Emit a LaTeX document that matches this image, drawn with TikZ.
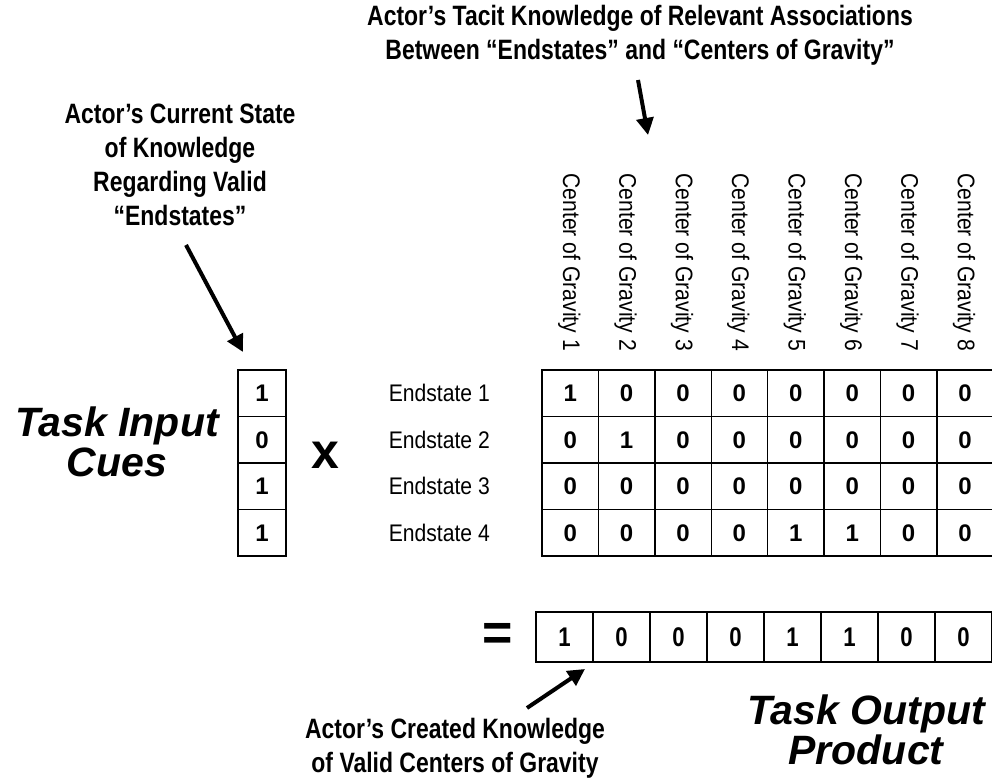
\documentclass[tikz,border=0pt]{standalone}
\usepackage{fontspec}
\setmainfont{Liberation Sans}
\newfontfamily\nb[FakeStretch=0.82]{Liberation Sans}
\newfontfamily\nr[FakeStretch=0.88]{Liberation Sans}
\usetikzlibrary{arrows.meta}
\begin{document}
\begin{tikzpicture}[x=1pt,y=-1pt,
  mcell/.style={draw, line width=1.4pt, minimum width=56.4pt, minimum height=46.5pt, inner sep=0pt, outer sep=0pt, font=\bfseries\fontsize{24}{24}\selectfont},
  icell/.style={draw, line width=1.4pt, minimum width=48pt, minimum height=46.5pt, inner sep=0pt, outer sep=0pt, font=\bfseries\fontsize{24}{24}\selectfont},
  ocell/.style={draw, line width=1.4pt, minimum width=57pt, minimum height=50pt, inner sep=0pt, outer sep=0pt, font=\nb\bfseries\fontsize{27}{27}\selectfont},
  colhead/.style={font=\nr\fontsize{24}{24}\selectfont, inner sep=0pt},
  rowhead/.style={font=\nr\fontsize{24}{24}\selectfont, inner sep=0pt},
  note/.style={font=\nb\bfseries\fontsize{28}{34}\selectfont, align=center, inner sep=0pt},
  big/.style={font=\bfseries\itshape\fontsize{41}{40}\selectfont, align=center, inner sep=0pt},
  pointer/.style={line width=4pt, -{Triangle[width=17pt,length=17pt]}}]
\useasboundingbox (0,0) rectangle (992,783);
% titles
\node[note] (ttop) at (640,35) {Actor’s Tacit Knowledge of Relevant Associations\\Between “Endstates” and “Centers of Gravity”};
\node[note] (tleft) at (180,165) {Actor’s Current State\\of Knowledge\\Regarding Valid\\“Endstates”};
\node[note] (tbot) at (455,748) {Actor’s Created Knowledge\\of Valid Centers of Gravity};
\node[big] (tout) at (866,730) {Task Output\\Product};
\node[big] (tin) at (117,442) {Task Input\\Cues};
% column headers
\foreach \c in {1,...,8} {
  \node[colhead, rotate=-90, anchor=east] (h\c) at ({542+56.4*(\c-0.5)-1},351) {Center of Gravity \c};
}
% row headers
\foreach \r in {1,...,4} {
  \node[rowhead, anchor=east] (e\r) at (490,{370+46.5*(\r-0.5)}) {Endstate \r};
}
% matrix
\foreach \r/\vals in {1/{1,0,0,0,0,0,0,0},2/{0,1,0,0,0,0,0,0},3/{0,0,0,0,0,0,0,0},4/{0,0,0,0,1,1,0,0}} {
  \foreach \v [count=\c] in \vals {
    \node[mcell] (m-\r-\c) at ({542+56.4*(\c-0.5)},{370+46.5*(\r-0.5)}) {\v};
  }
}
% input vector
\foreach \v [count=\r] in {1,0,1,1} {
  \node[icell] (i-\r) at (262,{370+46.5*(\r-0.5)}) {\v};
}
% output vector
\foreach \v [count=\c] in {1,0,0,0,1,1,0,0} {
  \node[ocell] (o-\c) at ({536+57*(\c-0.5)},637) {\v};
}
% operators
\node[font=\bfseries\fontsize{50}{50}\selectfont, inner sep=0pt] (times) at (325,455) {x};
\node[font=\bfseries\fontsize{52}{52}\selectfont, inner sep=0pt] (eq) at (498,637) {=};
% arrows
\coordinate (a1s) at (638,80);
\coordinate (a1e) at (648,135);
\coordinate (a2s) at (186,245);
\coordinate (a2e) at (243,352);
\coordinate (a3s) at (527,708);
\coordinate (a3e) at (585,669);
\draw[pointer] (a1s) -- (a1e);
\draw[pointer] (a2s) -- (a2e);
\draw[pointer] (a3s) -- (a3e);
\end{tikzpicture}
\end{document}
